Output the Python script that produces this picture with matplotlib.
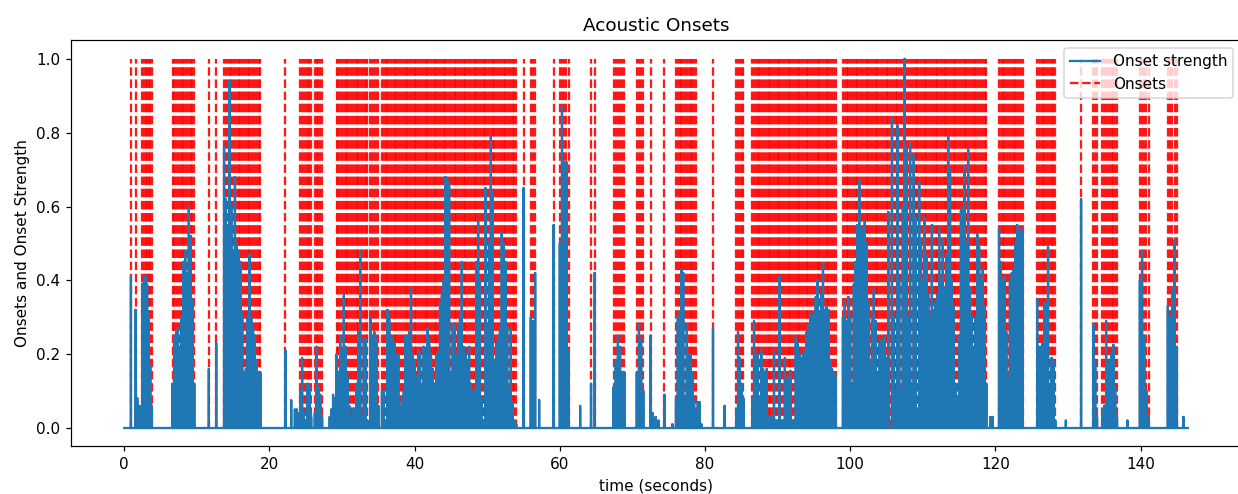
import numpy as np
import matplotlib.pyplot as plt

# onset strength envelope, read as bursts of activity:
# (start s, end s, envelope heights spread evenly from start to end)
track_end = 146.5

onset_bursts = [
    (0.92, 0.92, [0.41]),
    (1.56, 1.56, [0.32]),
    (2.5, 3.8, [0.39, 0.40, 0.41, 0.39, 0.31, 0.17, 0.06]),
    (6.65, 9.65, [0.12, 0.25, 0.26, 0.27, 0.22, 0.30, 0.45, 0.48, 0.42, 0.60,
                  0.52, 0.35, 0.12]),
    (11.65, 11.65, [0.16]),
    (12.67, 12.67, [0.23]),
    (13.75, 18.75, [0.76, 0.62, 0.55, 0.94, 0.60, 0.48, 0.68, 0.50, 0.48, 0.45,
                    0.31, 0.15, 0.16, 0.30, 0.47, 0.30, 0.27, 0.25, 0.18, 0.15,
                    0.15]),
    (22.2, 22.2, [0.21]),
    (24.25, 25.75, [0.10, 0.19, 0.04, 0.02, 0.12, 0.11, 0.03]),
    (26.25, 27.25, [0.04, 0.22, 0.11, 0.09, 0.03]),
    (29.25, 31.0, [0.20, 0.15, 0.25, 0.21, 0.36, 0.22, 0.14, 0.06]),
    (31.25, 33.5, [0.03, 0.05, 0.05, 0.12, 0.26, 0.48, 0.03, 0.24, 0.24, 0.02]),
    (33.9, 35.0, [0.30, 0.25, 0.26, 0.24, 0.06]),
    (35.5, 54.0, [0.10, 0.10, 0.02, 0.32, 0.30, 0.25, 0.24, 0.23, 0.20, 0.20,
                  0.06, 0.08, 0.10, 0.25, 0.25, 0.26, 0.38, 0.20, 0.18, 0.14,
                  0.21, 0.20, 0.10, 0.22, 0.20, 0.27, 0.24, 0.20, 0.16, 0.12,
                  0.20, 0.21, 0.34, 0.36, 0.40, 0.68, 0.67, 0.66, 0.15, 0.28,
                  0.28, 0.20, 0.28, 0.30, 0.45, 0.22, 0.20, 0.18, 0.22, 0.12,
                  0.10, 0.10, 0.45, 0.56, 0.40, 0.08, 0.02, 0.65, 0.27, 0.50,
                  0.79, 0.64, 0.18, 0.23, 0.25, 0.27, 0.53, 0.50, 0.45, 0.27,
                  0.10, 0.27, 0.07, 0.02, 0.01]),
    (55.0, 55.0, [0.65]),
    (56.0, 56.6, [0.30, 0.29, 0.42]),
    (59.15, 59.15, [0.55]),
    (60.0, 61.2, [0.50, 0.87, 0.72, 0.72, 0.21]),
    (64.3, 64.8, [0.12, 0.42]),
    (67.4, 68.9, [0.11, 0.18, 0.25, 0.22, 0.15, 0.15]),
    (70.6, 71.5, [0.15, 0.28, 0.24, 0.10]),
    (72.5, 72.5, [0.25]),
    (74.4, 74.4, [0.09]),
    (76.0, 78.75, [0.08, 0.30, 0.31, 0.43, 0.42, 0.08, 0.28, 0.20, 0.20, 0.15,
                   0.08, 0.04]),
    (81.1, 81.1, [0.27]),
    (84.3, 85.3, [0.05, 0.26, 0.19, 0.12, 0.08]),
    (86.5, 92.25, [0.08, 0.29, 0.20, 0.20, 0.08, 0.21, 0.16, 0.15, 0.16, 0.03,
                   0.03, 0.03, 0.21, 0.02, 0.02, 0.41, 0.02, 0.02, 0.19, 0.13,
                   0.14, 0.155, 0.02, 0.02]),
    (92.5, 98.0, [0.245, 0.23, 0.20, 0.19, 0.20, 0.21, 0.26, 0.28, 0.31, 0.30,
                  0.31, 0.355, 0.40, 0.31, 0.36, 0.445, 0.32, 0.33, 0.32, 0.18,
                  0.16, 0.15, 0.14]),
    (99.0, 118.75, [0.30, 0.345, 0.29, 0.355, 0.30, 0.12, 0.39, 0.45, 0.55, 0.67,
                    0.54, 0.54, 0.56, 0.50, 0.345, 0.175, 0.30, 0.375, 0.29, 0.14,
                    0.23, 0.235, 0.24, 0.25, 0.19, 0.585, 0.0, 0.84, 0.30, 0.10,
                    0.82, 0.40, 0.10, 0.60, 1.00, 0.757, 0.30, 0.775, 0.12, 0.74,
                    0.57, 0.05, 0.666, 0.51, 0.40, 0.57, 0.47, 0.36, 0.30, 0.55,
                    0.32, 0.34, 0.36, 0.54, 0.40, 0.51, 0.38, 0.47, 0.79, 0.70,
                    0.40, 0.33, 0.12, 0.08, 0.25, 0.59, 0.60, 0.71, 0.50, 0.755,
                    0.38, 0.30, 0.22, 0.30, 0.525, 0.49, 0.40, 0.43, 0.33, 0.12]),
    (120.5, 123.75, [0.54, 0.45, 0.40, 0.41, 0.26, 0.14, 0.40, 0.42, 0.43, 0.50,
                     0.55, 0.54, 0.53, 0.54]),
    (125.75, 128.25, [0.35, 0.22, 0.22, 0.23, 0.34, 0.34, 0.49, 0.10, 0.19, 0.18,
                      0.02]),
    (131.8, 131.8, [0.62]),
    (133.5, 134.0, [0.28, 0.18, 0.03]),
    (134.75, 136.75, [0.05, 0.06, 0.29, 0.18, 0.17, 0.20, 0.225, 0.11, 0.03]),
    (139.9, 141.1, [0.40, 0.48, 0.25, 0.10, 0.03]),
    (143.75, 145.0, [0.33, 0.30, 0.38, 0.51, 0.22]),
]

# small bumps in the envelope that were not picked as onsets
weak_bursts = [
    (1.8, 2.1, [0.08, 0.06]),
    (23.0, 23.0, [0.075]),
    (23.5, 24.0, [0.05, 0.05, 0.04]),
    (28.3, 29.0, [0.03, 0.05, 0.09, 0.08]),
    (57.15, 57.15, [0.076]),
    (62.8, 62.8, [0.06]),
    (72.8, 73.6, [0.04, 0.03, 0.02]),
    (75.5, 75.5, [0.01]),
    (79.0, 79.5, [0.07, 0.07, 0.01]),
    (82.7, 82.7, [0.06]),
    (119.3, 119.6, [0.03, 0.03]),
    (129.7, 129.7, [0.02]),
    (138.2, 138.2, [0.02]),
    (145.9, 145.9, [0.03]),
]


def burst_frames(bursts):
    times, heights = [], []
    for start, end, vals in bursts:
        times.extend(np.linspace(start, end, len(vals)))
        heights.extend(vals)
    return np.array(times), np.array(heights)


onset_t, onset_h = burst_frames(onset_bursts)
weak_t, weak_h = burst_frames(weak_bursts)
frame_t = np.concatenate([onset_t, weak_t])
frame_h = np.concatenate([onset_h, weak_h])
order = np.argsort(frame_t)
frame_t, frame_h = frame_t[order], frame_h[order]

# each frame drawn as a spike up from the zero line
env_t = np.concatenate([[0.0], np.repeat(frame_t, 3), [track_end]])
env_h = np.concatenate([[0.0], np.column_stack([np.zeros_like(frame_h), frame_h,
                                                np.zeros_like(frame_h)]).ravel(),
                        [0.0]])

dpi = 110
fig = plt.figure(figsize=(1238 / dpi, 494 / dpi), dpi=dpi)
ax = fig.add_axes([0.0574, 0.0962, 0.945, 0.822])
ax.plot(env_t, env_h, color='C0', label='Onset strength', zorder=3)
ax.vlines(onset_t, 0, 1, color='r', alpha=0.9, linestyle='--', label='Onsets')
ax.set_title('Acoustic Onsets')
ax.set_xlabel('time (seconds)')
ax.set_ylabel('Onsets and Onset Strength')
ax.legend(loc='upper right')
fig.savefig('out.png', dpi=dpi)
